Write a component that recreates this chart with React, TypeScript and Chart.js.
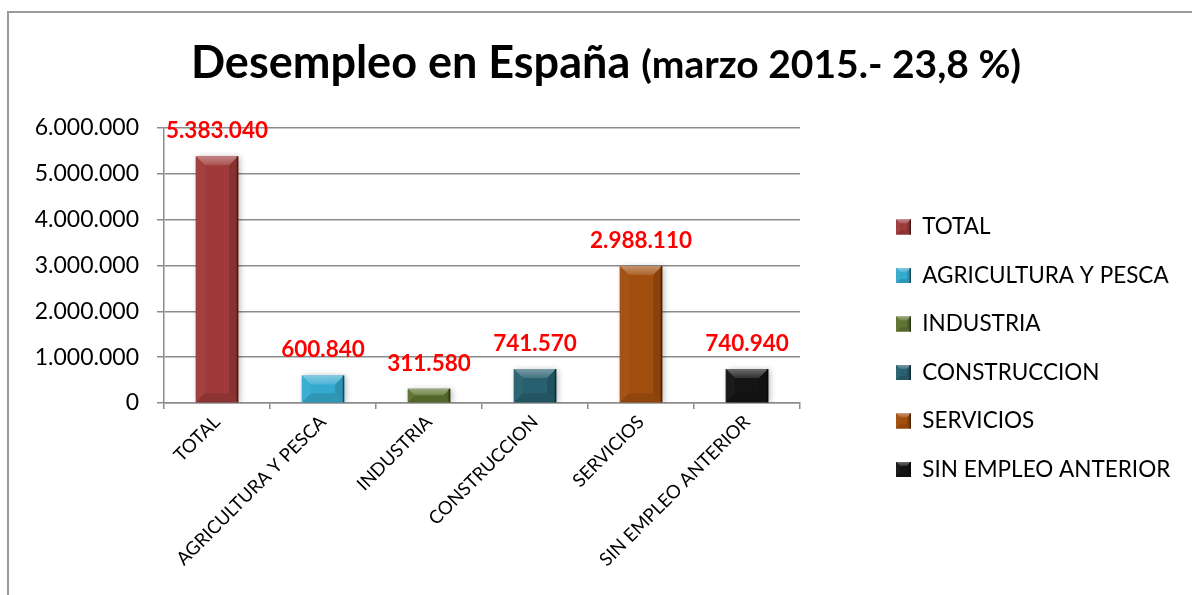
import React, { useEffect, useRef } from 'react';
import { Chart, registerables } from 'chart.js';

Chart.register(...registerables);

// ---------- data ----------
const categories = [
  'TOTAL',
  'AGRICULTURA Y PESCA',
  'INDUSTRIA',
  'CONSTRUCCION',
  'SERVICIOS',
  'SIN EMPLEO ANTERIOR',
];
const values = [5383040, 600840, 311580, 741570, 2988110, 740940];
const barColors = ['#9E3B3A', '#35AACF', '#5E7431', '#28606F', '#A24E0E', '#141414'];
const yMin = 0;
const yMax = 6000000;
const yStep = 1000000;
const titleMain = 'Desempleo en España';
const titleSub = '(marzo 2015.- 23,8 %)';

// ---------- style ----------
const FONT = 'Lato, "Open Sans", "DejaVu Sans", sans-serif';
const GRID = '#8c8c8c';
const LEGEND_FONT = 22.5;
const LEGEND_PAD = 26;
const LEGEND_BOX = 15;

function fmt(n: number): string {
  return Math.round(n)
    .toString()
    .replace(/\B(?=(\d{3})+(?!\d))/g, '.');
}

function hexToRgb(h: string): [number, number, number] {
  const v = parseInt(h.slice(1), 16);
  return [(v >> 16) & 255, (v >> 8) & 255, v & 255];
}
function mix(h: string, t: number): string {
  const [r, g, b] = hexToRgb(h);
  const f = (c: number) =>
    Math.round(t >= 0 ? c + (255 - c) * t : c * (1 + t));
  return `rgb(${f(r)},${f(g)},${f(b)})`;
}

function poly(ctx: CanvasRenderingContext2D, pts: number[][]) {
  ctx.beginPath();
  ctx.moveTo(pts[0][0], pts[0][1]);
  for (let i = 1; i < pts.length; i++) ctx.lineTo(pts[i][0], pts[i][1]);
  ctx.closePath();
  ctx.fill();
}

function bevel(
  ctx: CanvasRenderingContext2D,
  left: number,
  top: number,
  right: number,
  bottom: number,
  color: string,
  size: number
) {
  const w = right - left;
  const h = bottom - top;
  const b = Math.min(size, w / 2, h / 2);
  ctx.save();
  const gTop = ctx.createLinearGradient(0, top, 0, top + b);
  gTop.addColorStop(0, mix(color, 0.38));
  gTop.addColorStop(1, mix(color, 0.12));
  ctx.fillStyle = gTop;
  poly(ctx, [[left, top], [right, top], [right - b, top + b], [left + b, top + b]]);
  ctx.fillStyle = mix(color, -0.12);
  poly(ctx, [[left, bottom], [right, bottom], [right - b, bottom - b], [left + b, bottom - b]]);
  ctx.fillStyle = mix(color, 0.03);
  poly(ctx, [[left, top], [left + b, top + b], [left + b, bottom - b], [left, bottom]]);
  ctx.fillStyle = mix(color, -0.15);
  poly(ctx, [[right, top], [right - b, top + b], [right - b, bottom - b], [right, bottom]]);
  ctx.fillStyle = mix(color, -0.55);
  ctx.fillRect(right - 1.5, top, 1.5, h);
  ctx.restore();
}

const shadowPlugin = {
  id: 'barShadow',
  beforeDatasetDraw(chart: any) {
    const ctx = chart.ctx;
    ctx.save();
    ctx.shadowColor = 'rgba(0,0,0,0.28)';
    ctx.shadowBlur = 6;
    ctx.shadowOffsetX = 2;
    ctx.shadowOffsetY = 1;
  },
  afterDatasetDraw(chart: any) {
    chart.ctx.restore();
  },
};

const bevelLabelPlugin = {
  id: 'bevelLabels',
  afterDatasetsDraw(chart: any) {
    const ctx = chart.ctx as CanvasRenderingContext2D;
    const meta = chart.getDatasetMeta(0);
    meta.data.forEach((el: any, i: number) => {
      const p = el.getProps(['x', 'y', 'base', 'width'], true);
      const left = p.x - p.width / 2;
      const right = p.x + p.width / 2;
      const top = Math.min(p.y, p.base);
      const bottom = Math.max(p.y, p.base);
      bevel(ctx, left, top, right, bottom, barColors[i], 9);
    });
    ctx.save();
    ctx.fillStyle = '#FF0000';
    ctx.font = `bold 22.5px ${FONT}`;
    ctx.textAlign = 'center';
    ctx.textBaseline = 'alphabetic';
    meta.data.forEach((el: any, i: number) => {
      const p = el.getProps(['x', 'y'], true);
      ctx.fillText(fmt(values[i]), p.x, p.y - 18);
    });
    ctx.restore();
  },
  afterDraw(chart: any) {
    const lg = chart.legend;
    if (!lg || !lg.legendHitBoxes) return;
    const ctx = chart.ctx as CanvasRenderingContext2D;
    lg.legendHitBoxes.forEach((hb: any, i: number) => {
      const top = hb.top + Math.max((LEGEND_FONT - LEGEND_BOX) / 2, 0);
      bevel(ctx, hb.left, top, hb.left + LEGEND_BOX, top + LEGEND_BOX, barColors[i], 4);
    });
  },
};

const titlePlugin = {
  id: 'mixedTitle',
  afterDraw(chart: any) {
    const ctx = chart.ctx as CanvasRenderingContext2D;
    ctx.save();
    ctx.fillStyle = '#000';
    ctx.textBaseline = 'alphabetic';
    ctx.textAlign = 'left';
    const f1 = `bold 45px ${FONT}`;
    const f2 = `bold 39px ${FONT}`;
    ctx.font = f1;
    const w1 = ctx.measureText(titleMain + ' ').width;
    ctx.font = f2;
    const w2 = ctx.measureText(titleSub).width;
    const cx = 606;
    const x0 = cx - (w1 + w2) / 2;
    ctx.font = f1;
    ctx.fillText(titleMain + ' ', x0, 78);
    ctx.font = f2;
    ctx.fillText(titleSub, x0 + w1, 78);
    ctx.restore();
  },
};

export default function App() {
  const ref = useRef<HTMLCanvasElement | null>(null);

  useEffect(() => {
    const canvas = ref.current;
    if (!canvas) return;

    const mctx = document.createElement('canvas').getContext('2d')!;
    mctx.font = `${LEGEND_FONT}px ${FONT}`;
    const textW = Math.max(...categories.map((c) => mctx.measureText(c).width));
    const boxX = 897;
    const legendLeft = boxX - LEGEND_PAD;
    const legendW = LEGEND_PAD + LEGEND_BOX + LEGEND_FONT / 2 + textW;
    const padRight = 1192 - (legendLeft + legendW) - 9;
    const plotRight = 801;

    const chart = new Chart(canvas, {
      type: 'bar',
      data: {
        labels: categories,
        datasets: [
          {
            label: 'Desempleo',
            data: values,
            backgroundColor: barColors,
            borderWidth: 0,
            barPercentage: 0.4,
            categoryPercentage: 1.0,
            xAxisID: 'x',
            yAxisID: 'y',
          },
        ],
      },
      options: {
        animation: false,
        responsive: false,
        maintainAspectRatio: false,
        layout: {
          padding: { top: 101.5, left: 0, right: padRight, bottom: 0 },
        },
        plugins: {
          title: { display: false },
          tooltip: { enabled: false },
          legend: {
            display: true,
            position: 'right',
            align: 'center',
            maxWidth: 600,
            onClick: () => {},
            labels: {
              boxWidth: LEGEND_BOX,
              boxHeight: LEGEND_BOX,
              padding: LEGEND_PAD,
              color: '#000',
              font: { family: FONT, size: LEGEND_FONT },
              generateLabels: () =>
                categories.map((c, i) => ({
                  text: c,
                  fillStyle: barColors[i],
                  strokeStyle: barColors[i],
                  lineWidth: 0,
                  hidden: false,
                  index: i,
                  datasetIndex: 0,
                  fontColor: '#000',
                })),
            },
          },
        },
        scales: {
          x: {
            type: 'category',
            position: 'bottom',
            grid: {
              display: true,
              drawOnChartArea: false,
              drawTicks: true,
              tickLength: 6,
              color: GRID,
              lineWidth: 1.5,
            },
            border: { display: true, color: GRID, width: 1.5 },
            ticks: {
              color: '#000',
              font: { family: FONT, size: 18.5 },
              minRotation: 45,
              maxRotation: 45,
              autoSkip: false,
              padding: 2,
            },
            afterFit: (s: any) => {
              s.height = 192;
            },
          },
          y: {
            type: 'linear',
            position: 'left',
            min: yMin,
            max: yMax,
            grid: { color: GRID, lineWidth: 1.5, tickLength: 7, drawTicks: true },
            border: { display: true, color: GRID, width: 1.5 },
            ticks: {
              stepSize: yStep,
              color: '#000',
              font: { family: FONT, size: 23 },
              padding: 18,
              callback: (v: any) => fmt(Number(v)),
            },
            afterFit: (s: any) => {
              s.width = 164;
            },
          },
          xTop: {
            type: 'category',
            position: 'top',
            display: true,
            grid: { display: false },
            border: { display: false },
            ticks: { display: false },
            afterFit: (s: any) => {
              s.height = 26.5;
            },
          },
          yRight: {
            type: 'linear',
            position: 'right',
            display: true,
            grid: { display: false },
            border: { display: false },
            ticks: { display: false },
            afterFit: (s: any) => {
              s.width = legendLeft - plotRight;
            },
          },
        },
      },
      plugins: [shadowPlugin, bevelLabelPlugin, titlePlugin],
    } as any);

    return () => chart.destroy();
  }, []);

  return (
    <div
      style={{
        position: 'fixed',
        left: 0,
        top: 0,
        width: 1192,
        height: 595,
        background: '#fff',
        overflow: 'hidden',
      }}
    >
      <div
        style={{
          position: 'absolute',
          left: 7,
          top: 11,
          width: 1185,
          height: 584,
          boxSizing: 'border-box',
          borderTop: '2px solid #9a9a9a',
          borderLeft: '2px solid #9a9a9a',
        }}
      />
      <canvas
        ref={ref}
        width={1192}
        height={595}
        style={{ position: 'absolute', left: 0, top: 0, width: 1192, height: 595 }}
      />
    </div>
  );
}
